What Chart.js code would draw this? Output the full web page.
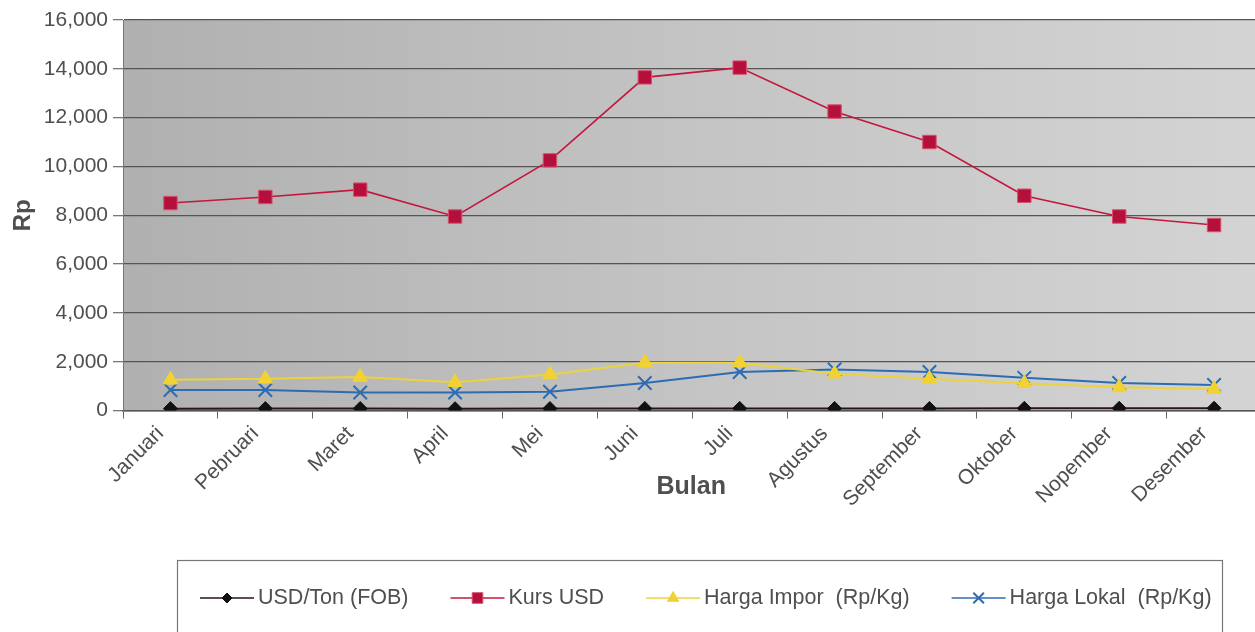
<!DOCTYPE html>
<html>
<head>
<meta charset="utf-8">
<script src="https://cdn.jsdelivr.net/npm/chart.js@4.4.1/dist/chart.umd.min.js"></script>
<style>
    html, body { margin: 0; padding: 0; background: #fff; overflow: hidden; }
    #wrap { width: 1273px; height: 632px; }
</style>
</head>
<body>
<div id="wrap"><canvas id="graficoHarga" width="1273" height="632"></canvas></div>
<script>
const bulan = ['Januari', 'Pebruari', 'Maret', 'April', 'Mei', 'Juni', 'Juli', 'Agustus', 'September', 'Oktober', 'Nopember', 'Desember'];
const usdTon = [78, 80, 82, 75, 80, 85, 88, 86, 84, 90, 92, 95];
const kursUsd = [8500, 8750, 9050, 7950, 10250, 13650, 14050, 12250, 11000, 8800, 7950, 7600];
const hargaImpor = [1260, 1300, 1370, 1160, 1480, 1960, 1960, 1510, 1300, 1120, 950, 880];
const hargaLokal = [840, 840, 740, 740, 770, 1130, 1580, 1680, 1580, 1340, 1130, 1050];
const namaSeri = ['USD/Ton (FOB)', 'Kurs USD', 'Harga Impor  (Rp/Kg)', 'Harga Lokal  (Rp/Kg)'];
const sumbuY = { min: 0, max: 16000, step: 2000 };

const FONT = "'Liberation Sans', Arial, sans-serif";
const abu = '#4f4f4f';

// latar area plot: gradasi abu-abu
const latarPlot = {
    id: 'latarPlot',
    beforeDraw(chart) {
        const a = chart.chartArea;
        const ctx = chart.ctx;
        const g = ctx.createLinearGradient(a.left, 0, a.right, 0);
        g.addColorStop(0, '#b0b0b0');
        g.addColorStop(0.5, '#c4c4c4');
        g.addColorStop(1, '#d4d4d4');
        ctx.save();
        ctx.fillStyle = g;
        ctx.fillRect(a.left, a.top, a.right - a.left, a.bottom - a.top);
        ctx.restore();
    }
};

// judul sumbu X dan legenda dalam kotak
const legendaKotak = {
    id: 'legendaKotak',
    afterDraw(chart) {
        const ctx = chart.ctx;
        const a = chart.chartArea;
        ctx.save();
        ctx.fillStyle = abu;
        ctx.font = 'bold 25px ' + FONT;
        ctx.textAlign = 'center';
        ctx.textBaseline = 'middle';
        ctx.fillText('Bulan', (a.left + a.right) / 2 - 1, a.bottom + 77);

        ctx.strokeStyle = '#777';
        ctx.lineWidth = 1.2;
        ctx.strokeRect(177.5, 560.5, 1045, 80);

        ctx.font = '21.5px ' + FONT;
        ctx.textAlign = 'left';
        const y = 598;
        let x = 200;
        chart.data.datasets.forEach(function (ds) {
            ctx.strokeStyle = ds.borderColor;
            ctx.lineWidth = 1.5;
            ctx.beginPath();
            ctx.moveTo(x, y);
            ctx.lineTo(x + 54, y);
            ctx.stroke();
            ctx.fillStyle = ds.pointBackgroundColor;
            ctx.strokeStyle = ds.pointBorderColor;
            ctx.lineWidth = ds.pointBorderWidth;
            Chart.helpers.drawPoint(ctx, {
                pointStyle: ds.pointStyle,
                radius: ds.pointRadius - 2,
                borderWidth: ds.pointBorderWidth,
                rotation: 0
            }, x + 27, y);
            ctx.fillStyle = abu;
            ctx.fillText(ds.label, x + 58, y);
            x += 58 + ctx.measureText(ds.label).width + 42;
        });
        ctx.restore();
    }
};

const ctx = document.getElementById('graficoHarga').getContext('2d');

new Chart(ctx, {
    type: 'line',
    data: {
        labels: bulan,
        datasets: [
            {
                label: namaSeri[0],
                data: usdTon,
                borderColor: '#2a1418',
                borderWidth: 2,
                pointStyle: 'rectRot',
                pointRadius: 7,
                pointBackgroundColor: '#111',
                pointBorderColor: '#111',
                pointBorderWidth: 1
            },
            {
                label: namaSeri[1],
                data: kursUsd,
                borderColor: '#c3173f',
                borderWidth: 1.6,
                pointStyle: 'rect',
                pointRadius: 9.5,
                pointBackgroundColor: '#b5103b',
                pointBorderColor: '#d8506e',
                pointBorderWidth: 1
            },
            {
                label: namaSeri[2],
                data: hargaImpor,
                borderColor: '#ecd33c',
                borderWidth: 2,
                pointStyle: 'triangle',
                pointRadius: 8.5,
                pointBackgroundColor: '#f2d231',
                pointBorderColor: '#f2d231',
                pointBorderWidth: 1
            },
            {
                label: namaSeri[3],
                data: hargaLokal,
                borderColor: '#2e6cb2',
                borderWidth: 2,
                pointStyle: 'crossRot',
                pointRadius: 9.5,
                pointBackgroundColor: '#2e6cb2',
                pointBorderColor: '#2e6cb2',
                pointBorderWidth: 2
            }
        ]
    },
    options: {
        responsive: false,
        animation: false,
        devicePixelRatio: 1,
        layout: { padding: { left: 3, top: 20, right: 0, bottom: 117 } },
        elements: { line: { tension: 0 } },
        scales: {
            x: {
                offset: true,
                grid: {
                    offset: true,
                    drawOnChartArea: false,
                    tickLength: 8,
                    color: '#666'
                },
                border: { color: '#555', width: 1.5 },
                ticks: {
                    minRotation: 45,
                    maxRotation: 45,
                    labelOffset: -10,
                    color: abu,
                    font: { family: FONT, size: 21 }
                }
            },
            y: {
                min: sumbuY.min,
                max: sumbuY.max,
                grid: {
                    color: '#555',
                    lineWidth: 1.3,
                    tickLength: 10,
                    tickColor: '#777'
                },
                border: { color: '#777', width: 1 },
                ticks: {
                    stepSize: sumbuY.step,
                    color: abu,
                    padding: 5,
                    font: { family: FONT, size: 21 },
                    callback: function (value) {
                        return value.toLocaleString('en-US');
                    }
                },
                title: {
                    display: true,
                    text: 'Rp',
                    color: abu,
                    padding: { top: 6, bottom: 1 },
                    font: { family: FONT, size: 24, weight: 'bold' }
                }
            }
        },
        plugins: {
            legend: { display: false },
            tooltip: { enabled: false }
        }
    },
    plugins: [latarPlot, legendaKotak]
});
</script>
</body>
</html>
